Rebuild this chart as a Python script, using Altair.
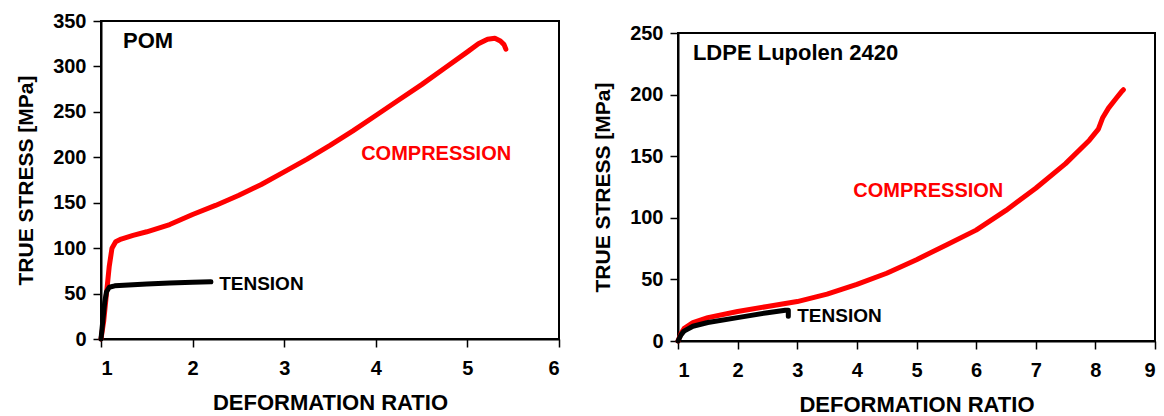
import altair as alt
import pandas as pd

# ---- POM panel data ----
pom_comp_x = [1.0, 1.03, 1.06, 1.09, 1.12, 1.16, 1.22, 1.35, 1.5, 1.75, 2.0, 2.25, 2.5, 2.75, 3.0,
              3.25, 3.5, 3.75, 4.0, 4.25, 4.5, 4.75, 5.0, 5.12, 5.22, 5.3, 5.36, 5.4, 5.42]
pom_comp_y = [0, 20, 50, 80, 100, 107, 110, 114, 118, 126, 137, 147, 158, 170, 184,
              198, 213, 229, 246, 263, 280, 298, 316, 325, 330, 331, 328, 324, 319]
pom_ten_x = [1.0, 1.02, 1.04, 1.06, 1.09, 1.15, 1.3, 1.5, 1.75, 2.0, 2.2]
pom_ten_y = [0, 20, 40, 52, 57, 58.5, 59.5, 60.5, 61.5, 62.5, 63]

# ---- LDPE panel data ----
ldpe_comp_x = [1.0, 1.05, 1.1, 1.25, 1.5, 2.0, 2.5, 3.0, 3.5, 4.0, 4.5, 5.0, 5.5, 6.0, 6.5,
               7.0, 7.5, 7.9, 8.05, 8.12, 8.22, 8.35, 8.45, 8.47]
ldpe_comp_y = [0, 6, 10, 15, 19, 24, 28, 32, 38, 46, 55, 66, 78, 90, 106,
               124, 144, 163, 172, 181, 189, 197, 203, 204]
ldpe_ten_x = [1.0, 1.05, 1.1, 1.25, 1.5, 2.0, 2.5, 2.8, 2.85, 2.85]
ldpe_ten_y = [0, 5, 8, 12, 15, 19, 23, 25, 25, 20]

# ---- annotations ----
pom_lab_text = ["POM", "COMPRESSION", "TENSION"]
pom_lab_x = [1.24, 3.84, 2.29]
pom_lab_y = [328, 204, 60.5]
pom_lab_color = ["black", "#ff0000", "black"]
pom_lab_size = [22, 20, 19]

ldpe_lab_text = ["LDPE Lupolen 2420", "COMPRESSION", "TENSION"]
ldpe_lab_x = [1.25, 3.94, 3.0]
ldpe_lab_y = [234, 122, 20]
ldpe_lab_color = ["black", "#ff0000", "black"]
ldpe_lab_size = [22, 20, 19]

FONT = "Liberation Sans"


def curves(cx, cy, tx, ty):
    rows = []
    for i, (x, y) in enumerate(zip(cx, cy)):
        rows.append({"x": x, "y": y, "s": "COMPRESSION", "i": i})
    for i, (x, y) in enumerate(zip(tx, ty)):
        rows.append({"x": x, "y": y, "s": "TENSION", "i": i})
    return pd.DataFrame(rows)


def panel(cx, cy, tx, ty, lt, lx, ly, lc, ls, xdom, ydom, ystep, w, h):
    df = curves(cx, cy, tx, ty)
    xs = alt.Scale(domain=xdom, nice=False, zero=False)
    ys = alt.Scale(domain=ydom, nice=False)
    xax = alt.Axis(values=list(range(xdom[0], xdom[1] + 1)), title="DEFORMATION RATIO",
                   format="d", grid=False, labelPadding=11, titlePadding=14, titleFontSize=22)
    yax = alt.Axis(values=list(range(ydom[0], ydom[1] + 1, ystep)), title="TRUE STRESS [MPa]",
                   format="d", grid=False, labelPadding=7, titlePadding=16, titleFontSize=21)
    line = alt.Chart(df).mark_line(strokeWidth=5, strokeCap="round", strokeJoin="round").encode(
        x=alt.X("x:Q", scale=xs, axis=xax),
        y=alt.Y("y:Q", scale=ys, axis=yax),
        color=alt.Color("s:N", scale=alt.Scale(domain=["COMPRESSION", "TENSION"],
                                               range=["#ff0000", "#000000"]), legend=None),
        order="i:Q",
        detail="s:N",
    )
    lab = pd.DataFrame({"t": lt, "x": lx, "y": ly, "c": lc, "fs": ls})
    text = alt.Chart(lab).mark_text(align="left", baseline="middle", fontWeight="bold",
                                    font=FONT).encode(
        x=alt.X("x:Q", scale=xs),
        y=alt.Y("y:Q", scale=ys),
        text="t:N",
        color=alt.Color("c:N", scale=None),
        size=alt.Size("fs:Q", scale=None),
    )
    return alt.layer(line, text).properties(width=w, height=h)


left = panel(pom_comp_x, pom_comp_y, pom_ten_x, pom_ten_y,
             pom_lab_text, pom_lab_x, pom_lab_y, pom_lab_color, pom_lab_size,
             [1, 6], [0, 350], 50, 458, 318)
right = panel(ldpe_comp_x, ldpe_comp_y, ldpe_ten_x, ldpe_ten_y,
              ldpe_lab_text, ldpe_lab_x, ldpe_lab_y, ldpe_lab_color, ldpe_lab_size,
              [1, 9], [0, 250], 50, 477, 308)

# empty strip above the right panel so its plot area starts lower than the left one
spacer = alt.Chart(pd.DataFrame({"a": [0]})).mark_point(opacity=0, size=0).encode(
    x=alt.value(0), y=alt.value(0)
).properties(width=10, height=1, view=alt.ViewBackground(stroke=None))

chart = alt.hconcat(left, alt.vconcat(spacer, right, spacing=0), spacing=30).properties(
    padding={"left": 14, "top": 10, "right": 0, "bottom": 0},
    background="white",
).configure_view(
    stroke="black", strokeWidth=2
).configure_axis(
    labelFont=FONT, titleFont=FONT, labelFontWeight="bold", titleFontWeight="bold",
    labelFontSize=20, labelColor="black", titleColor="black",
    domainColor="black", domainWidth=2, tickColor="black", tickWidth=1.5, tickSize=8,
)

chart.save("out.html", embed_options={"renderer": "svg", "actions": False})
